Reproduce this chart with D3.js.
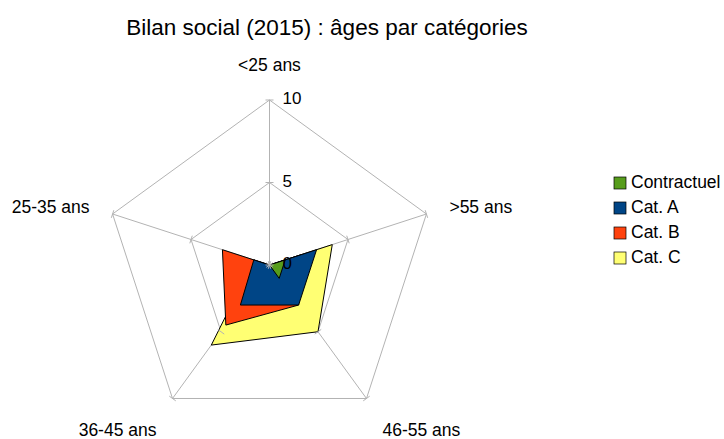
<!DOCTYPE html>
<html>
<head>
<meta charset="utf-8">
<script src="https://cdn.jsdelivr.net/npm/d3@7"></script>
<style>
    body { margin: 0; background: #fff; }
    svg { font-family: "Liberation Sans", Arial, sans-serif; }
</style>
</head>
<body>
<div id="chart"></div>
<script>
// Data
const axesLabels = ['<25 ans', '>55 ans', '46-55 ans', '36-45 ans', '25-35 ans'];
const seriesNames = ['Contractuel', 'Cat. A', 'Cat. B', 'Cat. C'];
const contractuel = [0, 1, 1, 0, 0];
const catA = [0, 3, 3, 3, 1];
const catB = [0, 2, 3, 4.5, 3];
const catC = [0, 4, 5, 6, 1];
const tickValues = [0, 5, 10];
const seriesColors = ['#579d1c', '#004586', '#ff420e', '#ffff73'];

const width = 724, height = 439;
const cx = 269.5, cy = 265;

const svg = d3.select('#chart').append('svg')
    .attr('width', width)
    .attr('height', height);

// Title
svg.append('text')
    .attr('x', 327)
    .attr('y', 35)
    .attr('text-anchor', 'middle')
    .style('font-size', '22.5px')
    .text('Bilan social (2015) : âges par catégories');

const r = d3.scaleLinear().domain([0, 10]).range([0, 165]);
const angle = d3.scaleLinear().domain([0, axesLabels.length]).range([-Math.PI / 2, 3 * Math.PI / 2]);

const pt = (i, v) => [cx + Math.cos(angle(i)) * r(v), cy + Math.sin(angle(i)) * r(v)];

const g = svg.append('g');
const gridColor = '#b3b3b3';

// Rings
tickValues.filter(t => t > 0).forEach(t => {
    g.append('polygon')
        .attr('points', axesLabels.map((_, i) => pt(i, t).join(',')).join(' '))
        .attr('fill', 'none')
        .attr('stroke', gridColor)
        .attr('stroke-width', 1);
});

// Spokes
axesLabels.forEach((_, i) => {
    const [x, y] = pt(i, 10);
    g.append('line')
        .attr('x1', cx).attr('y1', cy)
        .attr('x2', x).attr('y2', y)
        .attr('stroke', gridColor)
        .attr('stroke-width', 1);
});

// Series polygons, last series underneath
const allSeries = [contractuel, catA, catB, catC];
const lineGen = d3.line().curve(d3.curveLinearClosed);
const order = [3, 2, 1, 0];
order.forEach(s => {
    g.append('path')
        .attr('d', lineGen(allSeries[s].map((v, i) => pt(i, v))))
        .attr('fill', seriesColors[s])
        .attr('stroke', '#000')
        .attr('stroke-width', 1)
        .attr('stroke-linejoin', 'miter');
});

// Tick marks on each spoke
axesLabels.forEach((_, i) => {
    const a = angle(i);
    const px = -Math.sin(a), py = Math.cos(a);
    tickValues.forEach(t => {
        const [x, y] = pt(i, t);
        g.append('line')
            .attr('x1', x - px * 4).attr('y1', y - py * 4)
            .attr('x2', x + px * 4).attr('y2', y + py * 4)
            .attr('stroke', gridColor)
            .attr('stroke-width', 1);
    });
});

// Tick labels on the first axis
tickValues.forEach(t => {
    const [x, y] = pt(0, t);
    svg.append('text')
        .attr('x', x + 13)
        .attr('y', y)
        .attr('dominant-baseline', 'middle')
        .style('font-size', '17px')
        .text(t);
});

// Axis labels
const labelLayout = [
    { dx: 0, dy: -34, anchor: 'middle' },
    { dx: 23, dy: -6, anchor: 'start' },
    { dx: 16, dy: 33, anchor: 'start' },
    { dx: -16, dy: 33, anchor: 'end' },
    { dx: -23, dy: -6, anchor: 'end' }
];
axesLabels.forEach((lab, i) => {
    const [x, y] = pt(i, 10);
    svg.append('text')
        .attr('x', x + labelLayout[i].dx)
        .attr('y', y + labelLayout[i].dy)
        .attr('text-anchor', labelLayout[i].anchor)
        .attr('dominant-baseline', 'middle')
        .style('font-size', '17.5px')
        .text(lab);
});

// Legend
const legend = svg.append('g').attr('transform', 'translate(614,183)');
seriesNames.forEach((name, i) => {
    const row = legend.append('g').attr('transform', `translate(0,${i * 25})`);
    row.append('rect')
        .attr('x', 0).attr('y', -6)
        .attr('width', 12).attr('height', 12)
        .attr('fill', seriesColors[i])
        .attr('stroke', '#000')
        .attr('stroke-width', 0.7);
    row.append('text')
        .attr('x', 17)
        .attr('y', 0)
        .attr('dominant-baseline', 'middle')
        .style('font-size', '17.5px')
        .text(name);
});
</script>
</body>
</html>
